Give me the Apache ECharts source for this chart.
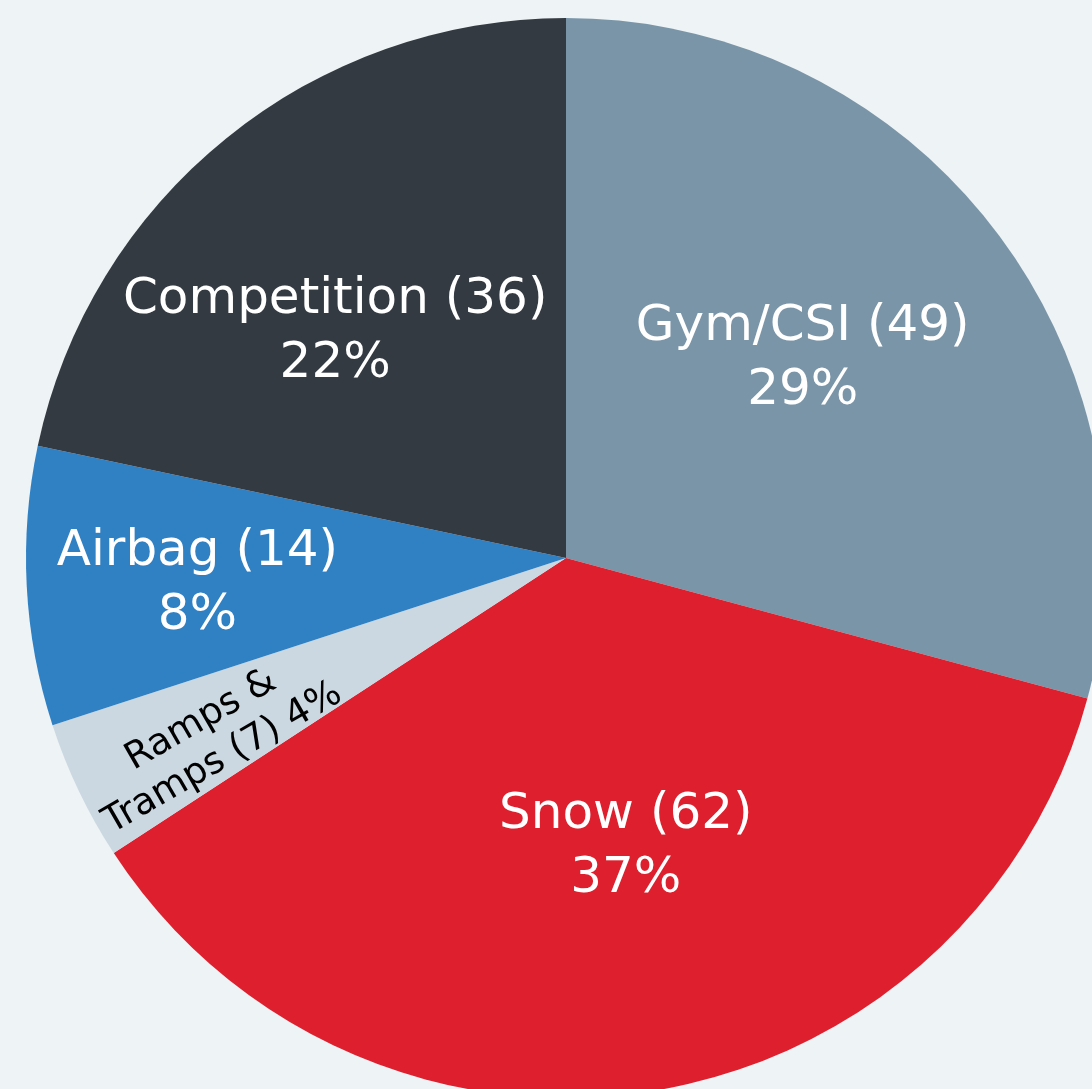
<!DOCTYPE html>
<html>
<head>
<meta charset="utf-8">
<script src="https://cdn.jsdelivr.net/npm/echarts@6/dist/echarts.min.js"></script>
<style>
  html, body { margin: 0; padding: 0; background: #eef3f6; }
  #pie { width: 1092px; height: 1089px; }
</style>
</head>
<body>
<div id="pie"></div>
<script>
const categories = ['Gym/CSI', 'Snow', 'Ramps &\nTramps', 'Airbag', 'Competition']
// counts as printed in the labels
const counts = [49, 62, 7, 14, 36]
// slice sizes (%)
const shares = [29.19, 36.61, 4.19, 8.34, 21.67]
const sliceColors = ['#7a95a8', '#de1f2d', '#cbd8e1', '#3080c4', '#343a42']
// nudges for the inside labels (px); the rotated one is in its own frame
const labelShift = [[20, -33], [17, 19], [-125, 1], [-96, 12], [-59, -14]]

const pieData = categories.map((name, i) => {
    const item = {
        name: name,
        value: shares[i],
        itemStyle: { color: sliceColors[i] }
    }
    if (i === 2) {
        item.label = {
            color: '#000',
            fontSize: 37,
            lineHeight: 44,
            rotate: 30
        }
    }
    return item
})

const myChart = echarts.init(document.getElementById('pie'))
const option = {
    backgroundColor: '#eef3f6',
    animation: false,
    series: [{
        type: 'pie',
        center: [566, 558],
        radius: [0, 540],
        startAngle: 90,
        clockwise: true,
        percentPrecision: 0,
        avoidLabelOverlap: false,
        data: pieData,
        label: {
            show: true,
            position: 'inside',
            color: '#fff',
            fontFamily: 'DejaVu Sans',
            fontSize: 50,
            lineHeight: 64,
            formatter: function (p) {
                const c = counts[p.dataIndex]
                if (p.dataIndex === 2) return p.name + ' (' + c + ') ' + p.percent + '%'
                return p.name + ' (' + c + ')\n' + p.percent + '%'
            }
        },
        labelLine: { show: false },
        labelLayout: function (params) {
            const s = labelShift[params.dataIndex]
            return { dx: s[0], dy: s[1] }
        },
        emphasis: { disabled: true }
    }]
}
myChart.setOption(option)
</script>
</body>
</html>
